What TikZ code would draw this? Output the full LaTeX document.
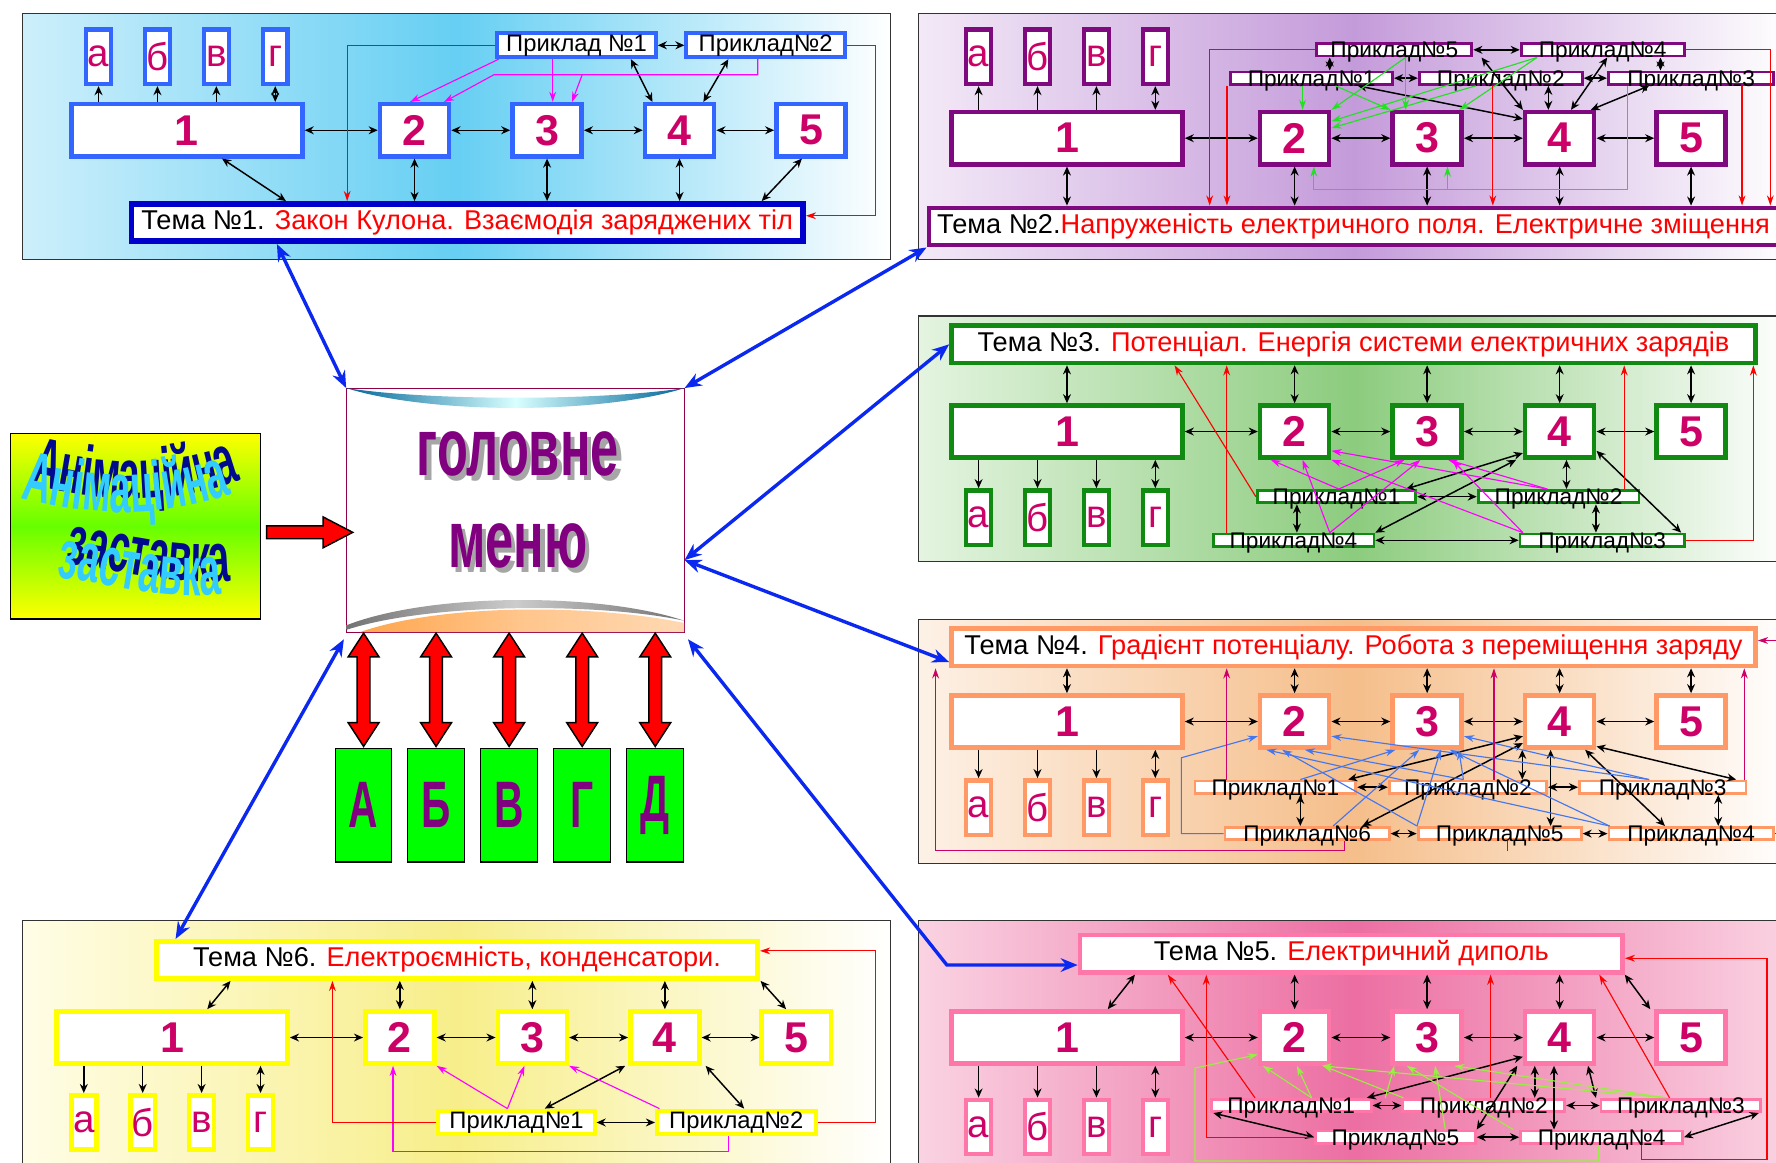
\documentclass[tikz,border=0pt]{standalone}
\usepackage{fontspec}
\setmainfont{Liberation Sans}
\newfontfamily\menufont{Liberation Sans}[FakeStretch=0.62]
\newfontfamily\wordfont{Liberation Sans}[FakeStretch=0.55]
\usetikzlibrary{arrows.meta, positioning, calc, shapes.arrows, decorations.text}
\definecolor{numred}{HTML}{CC0066}
\definecolor{p1blue}{HTML}{3366FF}
\definecolor{p1dark}{HTML}{0000CC}
\definecolor{p2purple}{HTML}{7F0A7F}
\definecolor{p3green}{HTML}{118A11}
\definecolor{p4orange}{HTML}{FF9966}
\definecolor{p5pink}{HTML}{FF77A8}
\definecolor{p6yellow}{HTML}{FFFF00}
\definecolor{lnred}{HTML}{FF0000}
\definecolor{lnmag}{HTML}{FF00FF}
\definecolor{lngreen}{HTML}{22E022}
\definecolor{lnblue}{HTML}{4477EE}
\definecolor{lncrim}{HTML}{CC0066}
\definecolor{lnlime}{HTML}{99EE44}
\definecolor{menublue}{HTML}{0A28F0}
\definecolor{menupurple}{HTML}{800080}
\definecolor{wlight}{HTML}{33CCFF}
\definecolor{wdark}{HTML}{000A8C}
\definecolor{bgA}{HTML}{66CFF3}
\definecolor{bgAl}{HTML}{CDEFFB}
\definecolor{bgB}{HTML}{C49BDA}
\definecolor{bgBl}{HTML}{F3E9F7}
\definecolor{bgC}{HTML}{8CCC7E}
\definecolor{bgCl}{HTML}{E4F4E0}
\definecolor{bgD}{HTML}{F5BE8A}
\definecolor{bgDl}{HTML}{FDF1E6}
\definecolor{bgE}{HTML}{EC6EA2}
\definecolor{bgEl}{HTML}{FAD3E2}
\definecolor{bgF}{HTML}{F7EE8A}
\definecolor{bgFl}{HTML}{FFFDE6}

\tikzset{
  panel/.style={draw=black!80, line width=1pt},
  numbox/.style={draw=#1, line width=4pt, fill=white, minimum height=46pt, inner sep=0pt,
    text=numred, font=\bfseries\fontsize{38}{38}\selectfont},
  letbox/.style={draw=#1, line width=4pt, fill=white, minimum width=22pt, minimum height=48pt,
    inner sep=0pt, text=numred, font=\fontsize{34}{34}\selectfont},
  temabox/.style={draw=#1, line width=4pt, fill=white, inner sep=0pt, minimum height=33pt,
    font=\fontsize{24}{24}\selectfont},
  prbig/.style={draw=#1, line width=3.5pt, fill=white, inner sep=0pt, minimum height=21pt,
    font=\fontsize{21}{21}\selectfont},
  prsm/.style={draw=#1, line width=2.5pt, fill=white, inner sep=0pt, minimum height=11pt,
    font=\fontsize{20}{20}\selectfont},
  conn/.style={line width=1.3pt, {Stealth[length=8pt,width=7pt]}-{Stealth[length=8pt,width=7pt]}},
  conn1/.style={line width=1.3pt, -{Stealth[length=8pt,width=7pt]}},
  lnk/.style={draw=#1, line width=1pt, -{Stealth[length=9pt,width=6pt]}},
  menuarr/.style={draw=menublue, line width=3pt, {Stealth[length=15pt,width=12pt]}-{Stealth[length=15pt,width=12pt]}},
  gbox/.style={draw=black, line width=1pt, fill=green, minimum width=50pt, minimum height=100pt,
    inner sep=0pt, text=menupurple, font=\menufont\bfseries\fontsize{58}{58}\selectfont},
  menutxt/.style={text=menupurple, font=\menufont\bfseries\fontsize{72}{72}\selectfont},
  redarrow/.style={draw=black, fill=red, line width=1.3pt, inner sep=5pt},
}

% ряд блоків 1..5
\newcommand{\rowboxes}[3]{%
  \node[numbox=#2, minimum width=204pt] (#1-1) at (942,#3) {1};
  \foreach \i/\x in {2/1143,3/1260,4/1377,5/1493}
    \node[numbox=#2, minimum width=61pt] (#1-\i) at (\x,#3) {\i};
  \foreach \i/\j in {1/2,2/3,3/4,4/5}
    \draw[conn] (#1-\i) -- (#1-\j);
}
% літери а..г
\newcommand{\letboxes}[3]{%
  \foreach \lt/\x [count=\nn] in {а/864,б/916,в/968,г/1020}
    \node[letbox=#2] (#1-l\nn) at (\x,#3) {\lt};
}
\newcommand{\letup}[1]{%
  \foreach \nn in {1,2,3} \draw[conn1] (#1-1.north -| #1-l\nn) -- (#1-l\nn.south);
  \draw[conn] (#1-1.north -| #1-l4) -- (#1-l4.south);
}
\newcommand{\letdown}[1]{%
  \foreach \nn in {1,2,3} \draw[conn1] (#1-1.south -| #1-l\nn) -- (#1-l\nn.north);
  \draw[conn] (#1-1.south -| #1-l4) -- (#1-l4.north);
}
\newcommand{\prl}[1]{\raisebox{-0.36em}[0pt][0pt]{#1}}
\newcommand{\wordstyle}{\wordfont\bfseries\fontsize{62}{62}\selectfont}

\begin{document}
\begin{tikzpicture}[x=1pt, y=-1pt, >=Stealth]
\useasboundingbox (0,0) rectangle (1568,1026);
\clip (0,0) rectangle (1568,1026);

% фони панелей
\shade[left color=bgAl, right color=white, middle color=bgA] (20,12) rectangle (786,229);
\draw[panel] (20,12) rectangle (786,229);
\shade[left color=bgBl, right color=white, middle color=bgB] (811,12) rectangle (1580,229);
\draw[panel] (811,12) rectangle (1580,229);
\shade[left color=bgCl, right color=white, middle color=bgC] (811,279) rectangle (1580,496);
\draw[panel] (811,279) rectangle (1580,496);
\shade[left color=bgDl, right color=white, middle color=bgD] (811,547) rectangle (1580,762);
\draw[panel] (811,547) rectangle (1580,762);
\shade[left color=bgEl, right color=bgEl, middle color=bgE] (811,813) rectangle (1580,1040);
\draw[panel] (811,813) rectangle (1580,1040);
\shade[left color=bgFl, right color=white, middle color=bgF] (20,813) rectangle (786,1040);
\draw[panel] (20,813) rectangle (786,1040);

% Тема 1
\begin{scope}[xshift=-777pt]
  \rowboxes{a}{p1blue}{115}
  \letboxes{a}{p1blue}{50}
\end{scope}
\letup{a}
\node[temabox=p1dark, line width=5pt, minimum width=593pt] (a-t) at (412.5,196.5)
  {Тема №1. \textcolor{lnred}{Закон Кулона. Взаємодія заряджених тіл}};
\node[prbig=p1blue, minimum width=140pt] (a-p1) at (509,40) {Приклад №1};
\node[prbig=p1blue, minimum width=140pt] (a-p2) at (676,40) {Приклад№2};
\foreach \i in {2,3,4} \draw[conn] (a-\i) -- (a-\i |- a-t.north);
\draw[conn] ([xshift=31pt]a-1.south) -- ([xshift=-160pt]a-t.north);
\draw[conn] ([xshift=-8pt]a-5.south) -- ([xshift=260pt]a-t.north);
\draw[conn] (a-p1) -- (a-p2);
\draw[conn] ([xshift=48pt]a-p1.south) -- ([xshift=-24pt]a-4.north);
\draw[conn] ([xshift=-33pt]a-p2.south) -- ([xshift=21pt]a-4.north);
\draw[lnk=lnred] (a-p1.west) -| ([xshift=-106pt]a-t.north);
\draw[lnk=lnred] (a-p2.east) -- ++(25,0) |- ([yshift=6pt]a-t.east);
\coordinate (a-mj) at (436,66);
\coordinate (a-mk) at (514,66);
\draw[lnk=lnmag] ([xshift=3pt]a-p1.south west) -- ([xshift=-4pt]a-2.north);
\draw[lnk=lnmag] ([xshift=-21pt]a-p1.south) -- ([xshift=-21pt]a-p1.south |- a-3.north);
\draw[lnk=lnmag] ([xshift=-7pt]a-p2.south) |- (a-mj) -- ([xshift=26pt]a-2.north);
\draw[lnk=lnmag] (a-mk) -- ([xshift=22pt]a-3.north);

% Тема 2
\rowboxes{b}{p2purple}{122}
\letboxes{b}{p2purple}{50}
\letup{b}
\node[temabox=p2purple, minimum width=750pt] (b-t) at (1195,200)
  {Тема №2.\textcolor{lnred}{Напруженість електричного поля. Електричне зміщення}};
\node[prsm=p2purple, minimum width=137pt] (b-p5) at (1231,44) {\prl{Приклад№5}};
\node[prsm=p2purple, minimum width=144pt] (b-p4) at (1415,44) {\prl{Приклад№4}};
\node[prsm=p2purple, minimum width=143pt] (b-p1) at (1158,69) {\prl{Приклад№1}};
\node[prsm=p2purple, minimum width=144pt] (b-p2) at (1325,69) {\prl{Приклад№2}};
\node[prsm=p2purple, minimum width=146pt] (b-p3) at (1493,69) {\prl{Приклад№3}};
\foreach \i in {1,...,5} \draw[conn] (b-\i) -- (b-\i |- b-t.north);
\draw[conn] (b-p5) -- (b-p4);
\draw[conn] (b-p1) -- (b-p2);
\draw[conn] (b-p2) -- (b-p3);
\draw[conn] ([xshift=16pt]b-p1.north) -- ([xshift=16pt]b-p1.north |- b-p5.south);
\draw[conn] ([xshift=-27pt]b-p3.north) -- ([xshift=-27pt]b-p3.north |- b-p4.south);
\draw[conn] ([xshift=77pt]b-p5.south) -- (b-4.north west);
\draw[conn] ([xshift=-32pt]b-p1.south east) -- ([yshift=-8pt]b-4.north west);
\draw[conn] ([xshift=4pt]b-p4.south) -- ([xshift=10pt]b-4.north);
\draw[conn] ([xshift=42pt]b-p2.south) -- ([xshift=-10pt]b-4.north);
\draw[conn] ([xshift=-37pt]b-p3.south) -- ([xshift=-5pt]b-4.north east);
\draw[lnk=lngreen] ([xshift=10pt]b-p5.south) -- (b-2.north east);
\draw[lnk=lngreen] ([xshift=10pt]b-p5.south) -- ([xshift=-19pt]b-3.north);
\draw[lnk=lngreen] ([xshift=-58pt]b-p4.south) -- ([yshift=-10pt]b-2.north east);
\draw[lnk=lngreen] ([xshift=-58pt]b-p4.south) -- ([xshift=-4pt]b-3.north east);
\draw[lnk=lngreen] ([xshift=-8pt]b-p1.south) -- ([xshift=-8pt]b-p1.south |- b-2.north);
\draw[lnk=lngreen] ([xshift=21pt]b-p1.south) -- (b-3.north west);
\draw[lnk=lngreen] ([xshift=-22pt]b-p2.south) -- ([yshift=-16pt]b-2.north east);
\coordinate (b-gj) at (1160,167);
\draw[lnk=lngreen] ([xshift=-56pt]b-p3.south) |- (b-gj) -- (b-gj |- b-2.south);
\draw[lnk=lngreen] ([xshift=18pt]b-3.south |- b-gj) -- ([xshift=18pt]b-3.south);
\draw[lnk=lnred] (b-p5.west) -| ([xshift=-127pt]b-t.north);
\draw[lnk=lnred] ([xshift=-2pt]b-p1.south west) -- ([xshift=-2pt]b-p1.south west |- b-t.north);
\draw[lnk=lnred] ([xshift=-7pt]b-p2.south) -- ([xshift=-7pt]b-p2.south |- b-t.north);
\draw[lnk=lnred] (b-p4.east) -| ([xshift=368pt]b-t.north);
\draw[lnk=lnred] ([xshift=45pt]b-p3.south) -- ([xshift=45pt]b-p3.south |- b-t.north);

% Тема 3
\node[temabox=p3green, minimum width=710pt] (c-t) at (1195,304)
  {Тема №3. \textcolor{lnred}{Потенціал. Енергія системи електричних зарядів}};
\rowboxes{c}{p3green}{381}
\letboxes{c}{p3green}{457}
\letdown{c}
\node[prsm=p3green, minimum width=140pt] (c-p1) at (1180,438.5) {\prl{Приклад№1}};
\node[prsm=p3green, minimum width=142pt] (c-p2) at (1376,438.5) {\prl{Приклад№2}};
\node[prsm=p3green, minimum width=142pt] (c-p4) at (1142,477) {\prl{Приклад№4}};
\node[prsm=p3green, minimum width=145pt] (c-p3) at (1414.5,477) {\prl{Приклад№3}};
\foreach \i in {1,...,5} \draw[conn] (c-t.south -| c-\i) -- (c-\i);
\draw[conn] (c-p1) -- (c-p2);
\draw[conn] (c-p4) -- (c-p3);
\draw[conn] ([xshift=-35pt]c-p1.south) -- ([xshift=-35pt]c-p1.south |- c-p4.north);
\draw[conn] ([xshift=33pt]c-p2.south) -- ([xshift=33pt]c-p2.south |- c-p3.north);
\draw[conn] ([xshift=6pt]c-4.south) -- ([xshift=6pt]c-4.south |- c-p2.north);
\draw[conn] ([yshift=8pt]c-4.south east) -- ([xshift=-4pt]c-p3.north east);
\draw[conn] ([yshift=6pt]c-4.south west) -- ([xshift=-10pt]c-p1.north east);
\draw[conn] ([xshift=-6pt]c-4.south west) -- (c-p4.north east);
\draw[lnk=lnmag] ([xshift=2pt]c-p1.north) -- ([xshift=-21pt]c-2.south);
\draw[lnk=lnmag] ([xshift=2pt]c-p1.north) -- ([xshift=-20pt]c-3.south);
\draw[lnk=lnmag] ([xshift=32pt]c-p4.north) -- ([xshift=7pt]c-2.south);
\draw[lnk=lnmag] ([xshift=32pt]c-p4.north) -- ([xshift=-6pt]c-3.south);
\draw[lnk=lnmag] ([xshift=-10pt]c-p2.north) -- ([yshift=8pt]c-2.south east);
\draw[lnk=lnmag] ([xshift=-10pt]c-p2.north) -- ([xshift=-14pt]c-3.south east);
\draw[lnk=lnmag] ([xshift=-70pt]c-p3.north) -- (c-2.south east);
\draw[lnk=lnmag] ([xshift=-70pt]c-p3.north) -- ([xshift=22pt]c-3.south);
\draw[lnk=lnred] (c-p1.west) -- ([xshift=-158pt]c-t.south);
\draw[lnk=lnred] ([xshift=-59pt]c-p4.north) -- ([xshift=-59pt]c-p4.north |- c-t.south);
\draw[lnk=lnred] ([xshift=58pt]c-p2.north) -- ([xshift=58pt]c-p2.north |- c-t.south);
\draw[lnk=lnred] (c-p3.east) -| ([xshift=-4pt]c-t.south east);

% Тема 4
\node[temabox=p4orange, minimum width=710pt] (d-t) at (1195,571.5)
  {Тема №4. \textcolor{lnred}{Градієнт потенціалу. Робота з переміщення заряду}};
\rowboxes{d}{p4orange}{637}
\letboxes{d}{p4orange}{713}
\letdown{d}
\node[prsm=p4orange, minimum width=142pt] (d-p1) at (1126,695) {\prl{Приклад№1}};
\node[prsm=p4orange, minimum width=139pt] (d-p2) at (1296,695) {\prl{Приклад№2}};
\node[prsm=p4orange, minimum width=147pt] (d-p3) at (1468,695) {\prl{Приклад№3}};
\node[prsm=p4orange, minimum width=145pt] (d-p6) at (1154,736) {\prl{Приклад№6}};
\node[prsm=p4orange, minimum width=144pt] (d-p5) at (1324,736) {\prl{Приклад№5}};
\node[prsm=p4orange, minimum width=145pt] (d-p4) at (1493,736) {\prl{Приклад№4}};
\foreach \i in {1,...,5} \draw[conn] (d-t.south -| d-\i) -- (d-\i);
\draw[conn] (d-p1) -- (d-p2);
\draw[conn] (d-p2) -- (d-p3);
\draw[conn] (d-p6) -- (d-p5);
\draw[conn] (d-p5) -- (d-p4);
\draw[conn] ([xshift=22pt]d-p1.south) -- ([xshift=22pt]d-p1.south |- d-p6.north);
\draw[conn] ([xshift=49pt]d-p3.south) -- ([xshift=49pt]d-p3.south |- d-p4.north);
\draw[conn] ([xshift=-33pt]d-4.south) -- ([xshift=-33pt]d-4.south |- d-p2.north);
\draw[conn] ([xshift=-8pt]d-4.south) -- ([xshift=-8pt]d-4.south |- d-p5.north);
\draw[conn] ([yshift=12pt]d-4.south west) -- ([xshift=-8pt]d-p1.north east);
\draw[conn] ([yshift=6pt]d-4.south west) -- ([xshift=-25pt]d-p6.north east);
\draw[conn] ([xshift=-10pt]d-4.south east) -- ([xshift=-23pt]d-p4.north);
\draw[conn] ([yshift=3pt]d-4.south east) -- ([xshift=-10pt]d-p3.north east);
\draw[lnk=lnblue] ([xshift=22pt]d-p1.north) -- ([xshift=-28pt]d-3.south);
\draw[lnk=lnblue] ([xshift=-4pt]d-p2.north) -- ([xshift=9pt]d-2.south);
\draw[lnk=lnblue] ([xshift=-4pt]d-p2.north) -- ([xshift=28pt]d-3.south);
\draw[lnk=lnblue] ([xshift=-12pt]d-p3.north) -- ([yshift=12pt]d-2.south east);
\draw[lnk=lnblue] ([xshift=-12pt]d-p3.north) -- ([yshift=12pt]d-3.south east);
\draw[lnk=lnblue] ([xshift=23pt]d-p6.north) -- ([xshift=-7pt]d-3.south);
\draw[lnk=lnblue] ([xshift=-73pt]d-p5.north) -- ([xshift=-11pt]d-2.south);
\draw[lnk=lnblue] ([xshift=-73pt]d-p5.north) -- ([xshift=12pt]d-3.south);
\draw[lnk=lnblue] ([xshift=-72pt]d-p4.north) -- ([xshift=-25pt]d-2.south);
\draw[lnk=lnblue] ([xshift=-72pt]d-p4.north) -- ([xshift=20pt]d-3.south);
\coordinate (d-bj) at (1043,669);
\draw[lnk=lnblue] (d-p6.west) -| (d-bj) -- ([yshift=-13pt]d-2.west);
\draw[lnk=lncrim] ([xshift=-43pt]d-p1.north) -- ([xshift=-43pt]d-p1.north |- d-t.south);
\draw[lnk=lncrim] ([xshift=23pt]d-p2.north) -- ([xshift=23pt]d-p2.north |- d-t.south);
\draw[lnk=lncrim] ([xshift=72pt]d-p3.north) -- ([xshift=72pt]d-p3.north |- d-t.south);
\draw[lnk=lncrim] (d-p4.east) -- ++(2,0) |- ([yshift=6pt]d-t.east);
\coordinate (d-cj) at (826,751);
\draw[lnk=lncrim] ([xshift=33pt]d-p6.south) |- (d-cj) -- (d-cj |- d-t.south);
\draw[lncrim, line width=1pt] ([xshift=7pt]d-p5.south) -- ([xshift=7pt]d-p5.south |- d-cj);

% Тема 5
\node[temabox=p5pink, minimum width=479pt] (e-t) at (1193,842)
  {Тема №5. \textcolor{lnred}{Електричний диполь}};
\rowboxes{e}{p5pink}{916}
\letboxes{e}{p5pink}{995}
\letdown{e}
\node[prsm=p5pink, minimum width=141pt] (e-p1) at (1140,976) {\prl{Приклад№1}};
\node[prsm=p5pink, minimum width=143pt] (e-p2) at (1310,976) {\prl{Приклад№2}};
\node[prsm=p5pink, minimum width=141pt] (e-p3) at (1484,976) {\prl{Приклад№3}};
\node[prsm=p5pink, minimum width=141pt] (e-p5) at (1232,1004) {\prl{Приклад№5}};
\node[prsm=p5pink, minimum width=143pt] (e-p4) at (1414,1004) {\prl{Приклад№4}};
\draw[conn] ([xshift=-191pt]e-t.south) -- ([xshift=36pt]e-1.north);
\draw[conn] (e-t.south east) -- ([xshift=-36pt]e-5.north);
\foreach \i in {2,3,4} \draw[conn] (e-t.south -| e-\i) -- (e-\i);
\draw[conn] (e-p1) -- (e-p2);
\draw[conn] (e-p2) -- (e-p3);
\draw[conn] (e-p5) -- (e-p4);
\draw[conn] ([xshift=3pt]e-p1.south west) -- (e-p5.west);
\draw[conn] ([xshift=-3pt]e-p3.south east) -- (e-p4.east);
\draw[conn] ([yshift=8pt]e-4.south west) -- ([xshift=-5pt]e-p1.north east);
\draw[conn] ([xshift=-5pt]e-4.south west) -- (e-p5.north east);
\draw[conn] ([xshift=-22pt]e-4.south) -- ([xshift=-22pt]e-4.south |- e-p2.north);
\draw[conn] ([xshift=-5pt]e-4.south) -- ([xshift=-42pt]e-p4.north);
\draw[conn] ([xshift=25pt]e-4.south) -- ([xshift=-75pt]e-p3.north);
\draw[lnk=lnred] ([xshift=-32pt]e-p1.north) -- ([xshift=-162pt]e-t.south);
\draw[lnk=lnred] (e-p5.west) -| ([xshift=-128pt]e-t.south);
\draw[lnk=lnred] ([xshift=6pt]e-p2.north) -- ([xshift=6pt]e-p2.north |- e-t.south);
\draw[lnk=lnred] ([xshift=-10pt]e-p3.north) -- ([xshift=219pt]e-t.south);
\coordinate (e-rj) at (1560,1024);
\draw[lnk=lnred] ([xshift=35pt]e-p4.south) |- (e-rj) |- ([yshift=-4pt]e-t.east);
\draw[lnk=lnlime] ([xshift=18pt]e-p1.north) -- ([xshift=-28pt]e-2.south);
\draw[lnk=lnlime] ([xshift=18pt]e-p1.north) -- ([xshift=2pt]e-2.south);
\draw[lnk=lnlime] ([xshift=83pt]e-p1.north) -- ([xshift=-29pt]e-3.south);
\draw[lnk=lnlime] ([xshift=-71pt]e-p2.north) -- ([xshift=25pt]e-2.south);
\draw[lnk=lnlime] ([xshift=44pt]e-p5.north) -- ([xshift=7pt]e-3.south);
\draw[lnk=lnlime] ([xshift=-78pt]e-p4.north) -- ([xshift=-18pt]e-3.south);
\draw[lnk=lnlime] ([xshift=-13pt]e-p3.north) -- ([xshift=24pt]e-2.south);
\draw[lnk=lnlime] ([xshift=-13pt]e-p3.north) -- ([xshift=24pt]e-3.south);
\coordinate (e-gj) at (1055,1025);
\draw[lnk=lnlime] ([xshift=-3pt]e-p4.south) |- (e-gj) -- ++(0,-82) -- ([yshift=-15pt]e-2.west);

% Тема 6
\node[temabox=p6yellow, minimum width=531pt] (f-t) at (403.5,847.5)
  {Тема №6. \textcolor{lnred}{Електроємність, конденсатори.}};
\begin{scope}[xshift=-790pt]
  \rowboxes{f}{p6yellow}{916}
  \letboxes{f}{p6yellow}{991}
\end{scope}
\letdown{f}
\node[prbig=p6yellow, minimum width=138pt] (f-p1) at (456,991) {Приклад№1};
\node[prbig=p6yellow, minimum width=140pt] (f-p2) at (650,991) {Приклад№2};
\draw[conn] ([xshift=-200pt]f-t.south) -- ([xshift=31pt]f-1.north);
\draw[conn] ([xshift=268pt]f-t.south) -- ([xshift=-9pt]f-5.north);
\foreach \i in {2,3,4} \draw[conn] (f-t.south -| f-\i) -- (f-\i);
\draw[conn] (f-p1) -- (f-p2);
\draw[conn] ([xshift=-35pt]f-4.south) -- ([xshift=25pt]f-p1.north);
\draw[conn] ([xshift=36pt]f-4.south) -- ([xshift=7pt]f-p2.north);
\draw[lnk=lnmag] ([xshift=-8pt]f-p1.north) -- (f-2.south east);
\draw[lnk=lnmag] ([xshift=-8pt]f-p1.north) -- ([xshift=-7pt]f-3.south);
\draw[lnk=lnmag] ([xshift=4pt]f-p2.north west) -- (f-3.south east);
\coordinate (f-mj) at (347,1017);
\draw[lnk=lnmag] ([xshift=-7pt]f-p2.south) |- (f-mj) -- (f-mj |- f-2.south);
\draw[lnk=lnred] (f-p1.west) -| ([xshift=-110pt]f-t.south);
\draw[lnk=lnred] (f-p2.east) -- ++(51,0) |- ([yshift=8pt]f-t.east);

% Головне меню
\node[draw=numred!70!black, line width=0.8pt, fill=white, minimum width=298pt,
  minimum height=215pt] (m) at (455,450.5) {};
\shade[left color=teal!80!blue, right color=teal!80!blue, middle color=cyan!15]
  (m.north west) .. controls (380,366) and (530,366) .. (m.north east)
  .. controls (530,354) and (380,354) .. (m.north west);
\shade[left color=black!55, right color=black!55, middle color=black!20]
  (306,552) .. controls (380,523) and (530,523) .. (604,548)
  .. controls (530,532) and (380,532) .. (306,556) -- cycle;
\shade[left color=orange!70, right color=orange!30, middle color=orange!45]
  (318,558) .. controls (390,533) and (520,533) .. (604,550) -- (604,558) -- cycle;
\node[menutxt, text=black!35] (m-s1) at (461,405) {головне};
\node[menutxt] (m-t1) at (457,401) {головне};
\node[menutxt, text=black!35] (m-s2) at (461,486) {меню};
\node[menutxt] (m-t2) at (457,482) {меню};

% Заставка
\node[draw=black, line width=1pt, minimum width=221pt, minimum height=164pt,
  top color=yellow, bottom color=yellow, middle color=green!60!yellow] (z) at (119.5,464.5) {};
\path[decorate, decoration={text along path, text align=center, text color=wdark,
  text={|\wordstyle|Анімаційна}}] (26,428) .. controls (78,440) and (138,450) .. (213,424);
\path[decorate, decoration={text along path, text align=center, text color=wlight,
  text={|\wordstyle|Анімаційна}}] (18,440) .. controls (70,452) and (130,462) .. (205,436);
\path[decorate, decoration={text along path, text align=center, text color=wdark,
  text={|\wordstyle|заставка}}] (40,496) .. controls (100,500) and (160,523) .. (222,510);
\path[decorate, decoration={text along path, text align=center, text color=wlight,
  text={|\wordstyle|заставка}}] (32,508) .. controls (92,512) and (152,535) .. (214,522);
\node[single arrow, redarrow, single arrow head extend=8pt, single arrow tip angle=55,
  minimum height=76pt] (z-arr) at (268,470) {};

% стрілки до розділів А..Д
\foreach \lt/\x [count=\i] in {А/321,Б/385,В/449.5,Г/514,Д/578.5} {
  \node[double arrow, redarrow, double arrow head extend=8pt, double arrow tip angle=66,
    minimum height=100pt, rotate=90] (ar\i) at (\x,609) {};
  \node[gbox] (g\i) at (\x,711) {\lt};
}

% зв'язки з темами
\coordinate (e-bend) at (836,852);
\draw[menuarr] ([xshift=-168pt]a-t.south) -- (m.north west);
\draw[menuarr] (b-t.south west) -- (m.north east);
\draw[menuarr] (c-t.west) -- ([yshift=-44pt]m.east);
\draw[menuarr] ([yshift=-13pt]d-t.west) -- ([yshift=-44pt]m.east);
\draw[menuarr] ([yshift=-10pt]e-t.west) -- (e-bend) -- ([xshift=3pt,yshift=-6pt]m.south east);
\draw[menuarr] ([xshift=-2pt,yshift=-6pt]m.south west) -- ([xshift=19pt]f-t.north west);
\end{tikzpicture}
\end{document}
